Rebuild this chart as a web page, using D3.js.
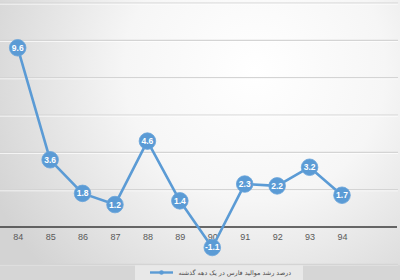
<!DOCTYPE html>
<html><head><meta charset="utf-8">
<script src="https://cdn.jsdelivr.net/npm/d3@7"></script>
<style>html,body{margin:0;padding:0;background:#fff}svg{display:block}</style>
</head><body>
<script>
const years = ["84","85","86","87","88","89","90","91","92","93","94"];
const values = [9.6,3.6,1.8,1.2,4.6,1.4,-1.1,2.3,2.2,3.2,1.7];
const gridTicks = [-2,0,2,4,6,8,10,12];
const legendLabel = "درصد رشد مواليد فارس در يک دهه گذشته";

const W = 400, H = 280;
const svg = d3.select("body").append("svg").attr("width", W).attr("height", H);
const defs = svg.append("defs");
const rg = defs.append("radialGradient").attr("id","bg").attr("gradientUnits","userSpaceOnUse")
  .attr("cx",255).attr("cy",70).attr("r",290);
rg.append("stop").attr("offset","0%").attr("stop-color","#ffffff");
rg.append("stop").attr("offset","45%").attr("stop-color","#f6f6f6");
rg.append("stop").attr("offset","100%").attr("stop-color","#d3d3d3");
svg.append("rect").attr("width",W).attr("height",H).attr("fill","url(#bg)");

const x = d3.scalePoint().domain(years).range([17.7, 342]);
const y = d3.scaleLinear().domain([-2,12]).range([264.3, 3]);

// gridlines
const g = svg.append("g");
g.selectAll("line.grid").data(gridTicks.filter(d=>d!==0)).join("line")
  .attr("x1",0).attr("x2",398).attr("y1",d=>y(d)).attr("y2",d=>y(d))
  .attr("stroke","#d4d4d4").attr("stroke-width",1.2);
g.selectAll("line.hl").data(gridTicks.filter(d=>d!==0)).join("line")
  .attr("x1",0).attr("x2",398).attr("y1",d=>y(d)+1.2).attr("y2",d=>y(d)+1.2)
  .attr("stroke","#ffffff").attr("stroke-opacity",0.7).attr("stroke-width",1);

// bottom band
svg.append("rect").attr("x",0).attr("y",y(-2)+1).attr("width",W).attr("height",H-y(-2)-1).attr("fill","#d6d6d6");
svg.append("rect").attr("x",135).attr("y",y(-2)+1).attr("width",168).attr("height",H-y(-2)-1).attr("fill","#e8e8e8");

// zero axis
svg.append("line").attr("x1",0).attr("x2",397).attr("y1",y(0)).attr("y2",y(0))
  .attr("stroke","#3a3a3a").attr("stroke-width",1.5);

// x tick labels
const xa = d3.axisBottom(x).tickSize(0).tickPadding(0);
const axG = svg.append("g").attr("transform",`translate(0,${y(0)+7})`).call(xa);
axG.select(".domain").remove();
axG.selectAll("text").attr("font-family","Liberation Sans, Arial, sans-serif").attr("font-size",9)
  .attr("fill","#595959").attr("dy","0.71em");

// line
const line = d3.line().x((d,i)=>x(years[i])).y(d=>y(d));
svg.append("path").datum(values).attr("d",line).attr("fill","none")
  .attr("stroke","#5b9bd5").attr("stroke-width",2.6).attr("stroke-linejoin","round");

// markers
const m = svg.selectAll("g.m").data(values).join("g")
  .attr("transform",(d,i)=>`translate(${x(years[i])},${y(d)})`);
m.append("circle").attr("r",8.3).attr("fill","#5b9bd5").attr("stroke","#6aa5db").attr("stroke-width",0.8);
m.append("text").text(d=>d).attr("text-anchor","middle").attr("dy","0.35em")
  .attr("font-family","Liberation Sans, Arial, sans-serif").attr("font-weight","bold")
  .attr("font-size",8.5).attr("fill","#ffffff");

// legend
const ly = 272.5;
svg.append("line").attr("x1",150).attr("x2",173).attr("y1",ly).attr("y2",ly)
  .attr("stroke","#5b9bd5").attr("stroke-width",2.4);
svg.append("circle").attr("cx",161.5).attr("cy",ly).attr("r",2.2).attr("fill","#5b9bd5");
svg.append("text").text(legendLabel).attr("x",291).attr("y",ly).attr("dy","0.35em")
  .attr("text-anchor","end")
  .attr("font-family","DejaVu Sans, sans-serif").attr("font-size",6.4).attr("fill","#4a4a4a");
</script>
</body></html>
